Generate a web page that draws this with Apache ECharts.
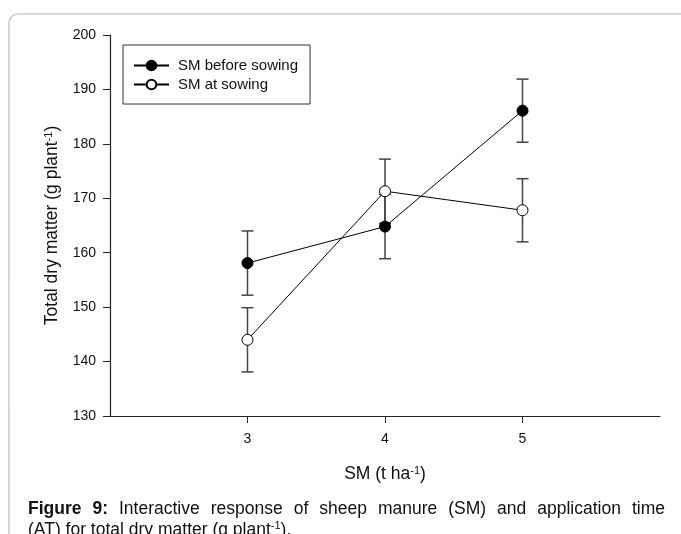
<!DOCTYPE html>
<html>
<head>
<meta charset="utf-8">
<script src="https://cdn.jsdelivr.net/npm/echarts@6/dist/echarts.min.js"></script>
<style>
html,body{margin:0;padding:0;background:#fff;overflow:hidden;}
#wrap{position:relative;width:681px;height:534px;overflow:hidden;}
#chart{position:absolute;left:0;top:0;width:681px;height:534px;}
.cap{position:absolute;left:28px;width:637px;font-family:"Liberation Sans",Arial,sans-serif;font-size:17.5px;line-height:21px;color:#111;white-space:nowrap;}
#cap1{top:498px;text-align:justify;text-align-last:justify;white-space:normal;}
#cap2{top:519px;}
sup{font-size:11px;vertical-align:6px;line-height:0;}
</style>
</head>
<body>
<div id="wrap">
<div id="chart"></div>
<div class="cap" id="cap1"><b>Figure 9:</b> Interactive response of sheep manure (SM) and application time</div>
<div class="cap" id="cap2">(AT) for total dry matter (g plant<sup>-1</sup>).</div>
</div>
<script>
// ---- data ----
var xValues = [3, 4, 5];
var seriesNames = ['SM before sowing', 'SM at sowing'];
var beforeMean = [158.1, 164.8, 186.1];
var beforeErr = [5.9, 5.9, 5.8];
var atMean = [144.0, 171.3, 167.8];
var atErr = [5.9, 5.9, 5.8];
var xTicks = [3, 4, 5];
var yTicks = [130, 140, 150, 160, 170, 180, 190, 200];

function pairs(xs, ys) { return xs.map(function (x, i) { return [x, ys[i]]; }); }
function errData(xs, ys, es) { return xs.map(function (x, i) { return [x, ys[i] - es[i], ys[i] + es[i]]; }); }

function errRender(params, api) {
  var x = api.value(0);
  var lo = api.coord([x, api.value(1)]);
  var hi = api.coord([x, api.value(2)]);
  var cw = 6;
  var st = { stroke: '#444', lineWidth: 1.5 };
  return {
    type: 'group',
    children: [
      { type: 'line', shape: { x1: lo[0], y1: lo[1], x2: hi[0], y2: hi[1] }, style: st },
      { type: 'line', shape: { x1: hi[0] - cw, y1: hi[1], x2: hi[0] + cw, y2: hi[1] }, style: st },
      { type: 'line', shape: { x1: lo[0] - cw, y1: lo[1], x2: lo[0] + cw, y2: lo[1] }, style: st }
    ]
  };
}

var chart = echarts.init(document.getElementById('chart'), null, { renderer: 'canvas' });
var font = '"Liberation Sans", Arial, sans-serif';
chart.setOption({
  animation: false,
  backgroundColor: 'transparent',
  textStyle: { fontFamily: font },
  graphic: [{
    type: 'rect', z: -10, silent: true,
    shape: { x: 9, y: 14, width: 720, height: 620, r: 9 },
    style: { fill: 'none', stroke: '#c9c9c9', lineWidth: 1.5 }
  }],
  grid: { left: 110, right: 21, top: 35, bottom: 118, containLabel: false },
  legend: {
    orient: 'vertical', left: 123, top: 45,
    data: seriesNames,
    borderColor: '#333', borderWidth: 1, borderRadius: 0,
    padding: [13, 12, 12, 10],
    itemWidth: 35, itemHeight: 12, itemGap: 4,
    textStyle: { fontSize: 15, color: '#111', fontFamily: font, padding: [0, 0, 0, 4] }
  },
  xAxis: {
    type: 'value', min: 2, max: 6, interval: 1,
    name: 'SM (t ha{sup|-1})',
    nameLocation: 'middle', nameGap: 49,
    nameTextStyle: {
      fontSize: 17.5, color: '#111', fontFamily: font,
      rich: { sup: { fontSize: 11, verticalAlign: 'top', padding: [0, 0, 8, 0], color: '#111', fontFamily: font } }
    },
    axisLine: { show: true, lineStyle: { color: '#222', width: 1.2 } },
    axisTick: { show: true, length: 7, inside: false, customValues: xTicks, lineStyle: { color: '#222' } },
    axisLabel: { customValues: xTicks, fontSize: 14, color: '#111', margin: 16, fontFamily: font },
    splitLine: { show: false }
  },
  yAxis: {
    type: 'value', min: 130, max: 200, interval: 10,
    name: 'Total dry matter (g plant{sup|-1})',
    nameLocation: 'middle', nameGap: 48, nameRotate: 90,
    nameTextStyle: {
      fontSize: 17.5, color: '#111', fontFamily: font,
      rich: { sup: { fontSize: 11, verticalAlign: 'top', padding: [0, 0, 8, 0], color: '#111', fontFamily: font } }
    },
    axisLine: { show: true, lineStyle: { color: '#222', width: 1.2 } },
    axisTick: { show: true, length: 7, inside: false, lineStyle: { color: '#222' } },
    axisLabel: { fontSize: 14, color: '#111', margin: 14, fontFamily: font },
    splitLine: { show: false }
  },
  series: [
    { type: 'custom', name: 'err1', renderItem: errRender, data: errData(xValues, beforeMean, beforeErr), z: 1, silent: true },
    { type: 'custom', name: 'err2', renderItem: errRender, data: errData(xValues, atMean, atErr), z: 1, silent: true },
    {
      type: 'line', name: seriesNames[0], data: pairs(xValues, beforeMean), z: 3,
      symbol: 'circle', symbolSize: 11, showAllSymbol: true,
      lineStyle: { color: '#000', width: 1 },
      itemStyle: { color: '#000', borderColor: '#000', borderWidth: 1 }
    },
    {
      type: 'line', name: seriesNames[1], data: pairs(xValues, atMean), z: 3,
      symbol: 'circle', symbolSize: 11, showAllSymbol: true,
      lineStyle: { color: '#000', width: 1 },
      itemStyle: { color: '#fff', borderColor: '#000', borderWidth: 1 }
    }
  ]
});
</script>
</body>
</html>
